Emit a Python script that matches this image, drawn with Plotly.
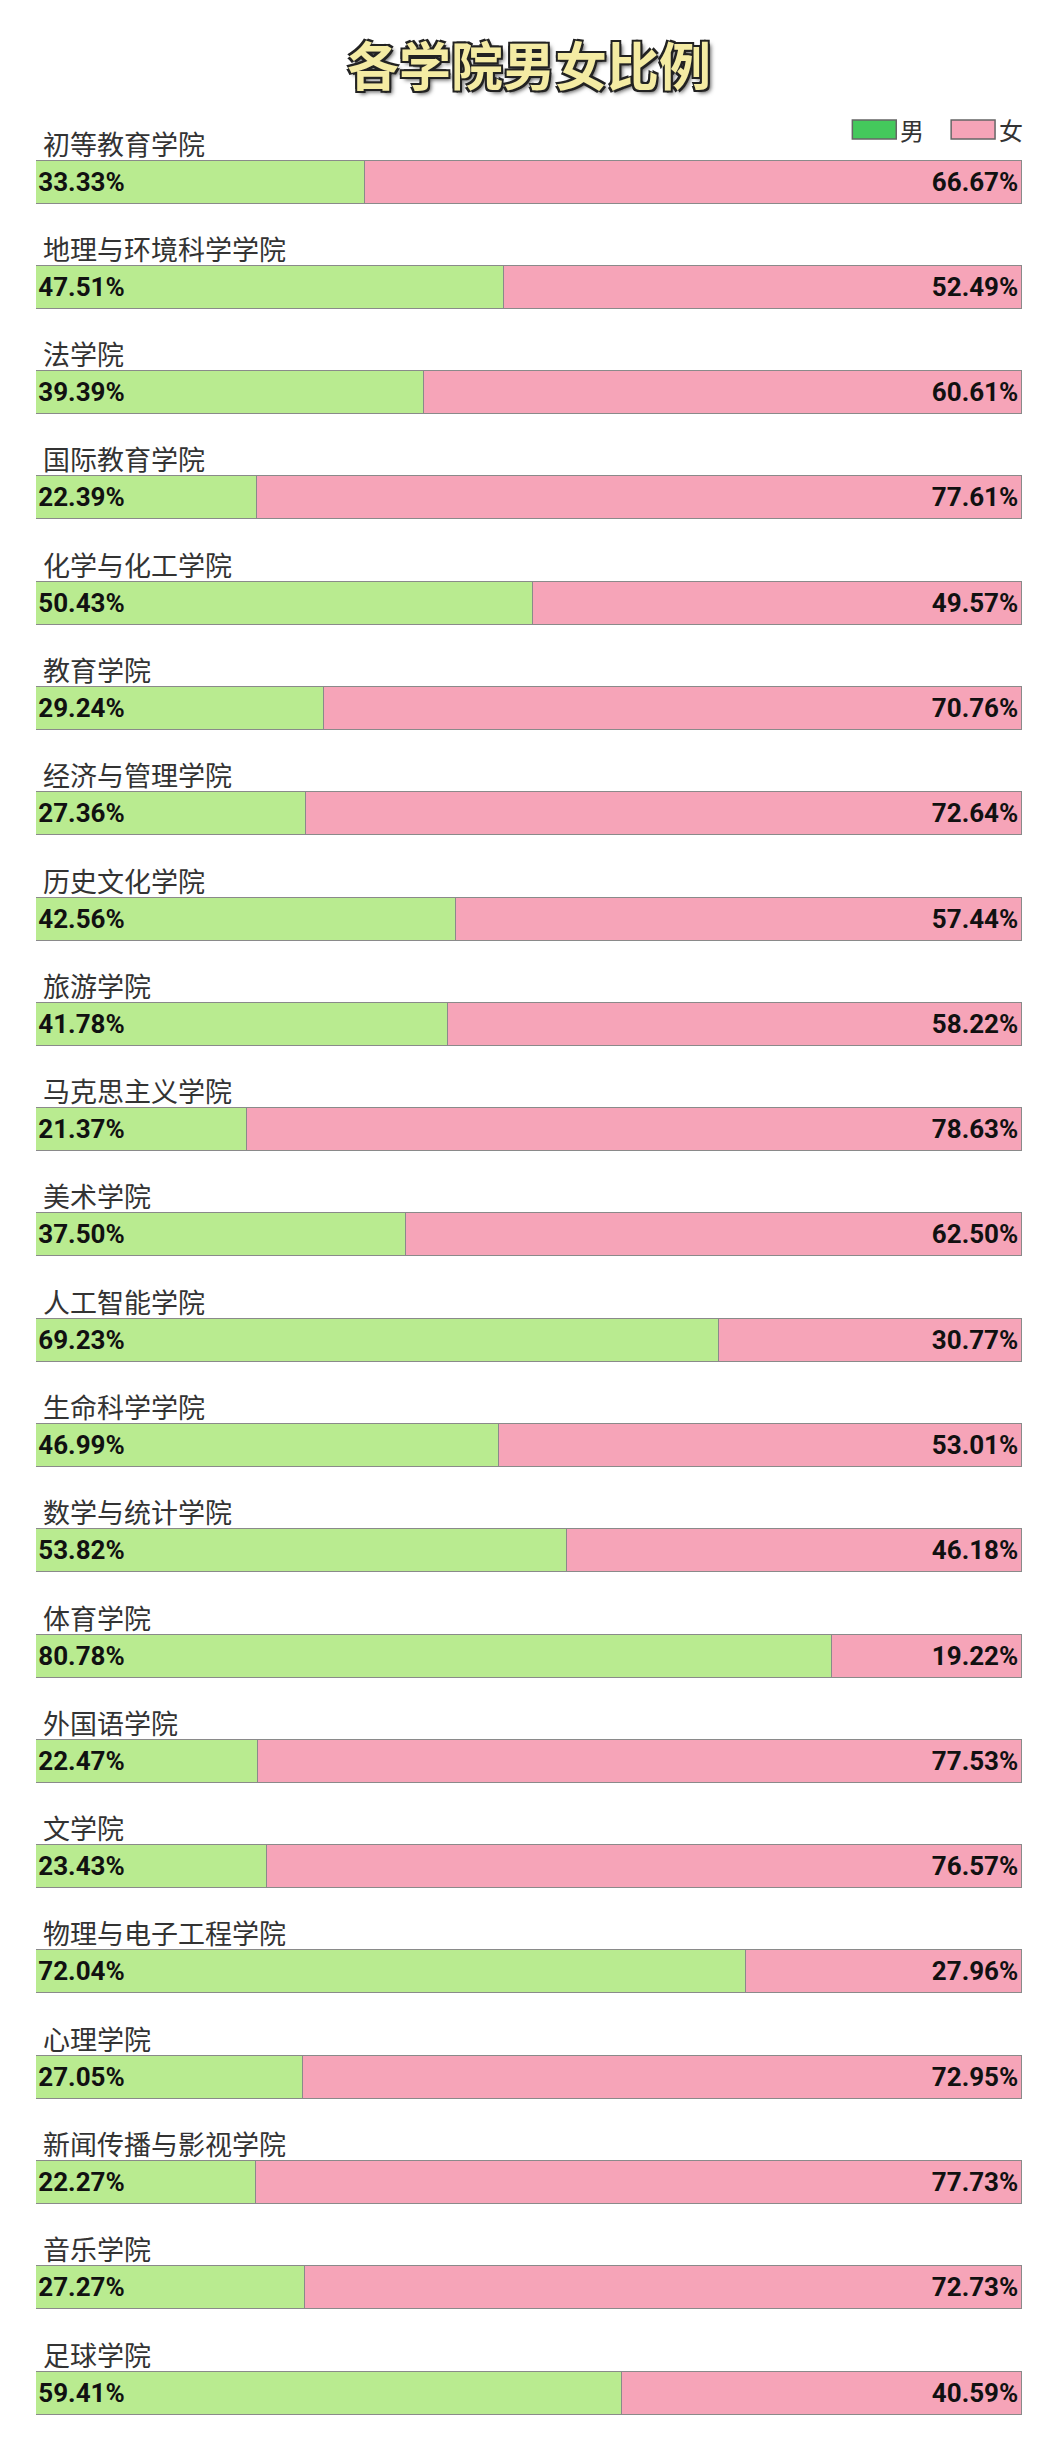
import plotly.graph_objects as go

colleges = ["初等教育学院", "地理与环境科学学院", "法学院", "国际教育学院", "化学与化工学院",
            "教育学院", "经济与管理学院", "历史文化学院", "旅游学院", "马克思主义学院",
            "美术学院", "人工智能学院", "生命科学学院", "数学与统计学院", "体育学院",
            "外国语学院", "文学院", "物理与电子工程学院", "心理学院", "新闻传播与影视学院",
            "音乐学院", "足球学院"]
male = [33.33, 47.51, 39.39, 22.39, 50.43, 29.24, 27.36, 42.56, 41.78, 21.37, 37.50,
        69.23, 46.99, 53.82, 80.78, 22.47, 23.43, 72.04, 27.05, 22.27, 27.27, 59.41]
female = [66.67, 52.49, 60.61, 77.61, 49.57, 70.76, 72.64, 57.44, 58.22, 78.63, 62.50,
          30.77, 53.01, 46.18, 19.22, 77.53, 76.57, 27.96, 72.95, 77.73, 72.73, 40.59]

W, H = 1048, 2462
pitch = (2385 - 174) / (len(colleges) - 1)
ys = [174 + i * pitch for i in range(len(colleges))]

green, pink = "#b9eb90", "#f6a4b8"
pct_font = dict(family="Liberation Sans Narrow, Roboto, sans-serif", size=26, color="#111", weight="bold")

fig = go.Figure()
fig.add_bar(y=ys, x=male, orientation="h", width=43, marker=dict(color=green, line=dict(color="#8a8a8a", width=1.5)),
            text=[f"{v:.2f}%" for v in male], textposition="inside", insidetextanchor="start",
            textfont=pct_font, showlegend=False, hoverinfo="skip")
fig.add_bar(y=ys, x=female, orientation="h", width=43, marker=dict(color=pink, line=dict(color="#8a8a8a", width=1.5)),
            text=[f"{v:.2f}%" for v in female], textposition="inside", insidetextanchor="end",
            textfont=pct_font, showlegend=False, hoverinfo="skip")

for name, y in zip(colleges, ys):
    fig.add_annotation(x=0, y=y - 39, xref="x", yref="y", text=name, showarrow=False,
                       xanchor="left", yanchor="middle", xshift=5,
                       font=dict(family="Noto Sans CJK SC", size=27, color="#333"))

# title
fig.add_annotation(x=0.5, y=55, xref="paper", yref="y", text="<b>各学院男女比例</b>", showarrow=False,
                   font=dict(family="Noto Sans CJK SC", size=52, color="#f4eba3",
                             shadow="2px 2px 0 #222, -2px -2px 0 #222, 2px -2px 0 #222, -2px 2px 0 #222, 3px 3px 4px #555"))

# legend
for x0, col, lab in [(846, "#44c95c", "男"), (945, pink, "女")]:
    fig.add_shape(type="rect", xref="paper", yref="y", x0=(x0 - 28) / 988, x1=(x0 + 44 - 28) / 988,
                  y0=112, y1=131, fillcolor=col, line=dict(color="#666", width=1.5))
    fig.add_annotation(x=(x0 + 46 - 28) / 988, y=121, xref="paper", yref="y", text=lab, showarrow=False,
                       xanchor="left", font=dict(family="Noto Sans CJK SC", size=24, color="#333"))

fig.update_layout(width=W, height=H, barmode="stack", bargap=0,
                  margin=dict(l=28, r=34, t=0, b=0), plot_bgcolor="white", paper_bgcolor="white",
                  xaxis=dict(range=[0, 100], visible=False, fixedrange=True),
                  yaxis=dict(range=[H, 0], visible=False, fixedrange=True))
fig.write_html("out.html")
